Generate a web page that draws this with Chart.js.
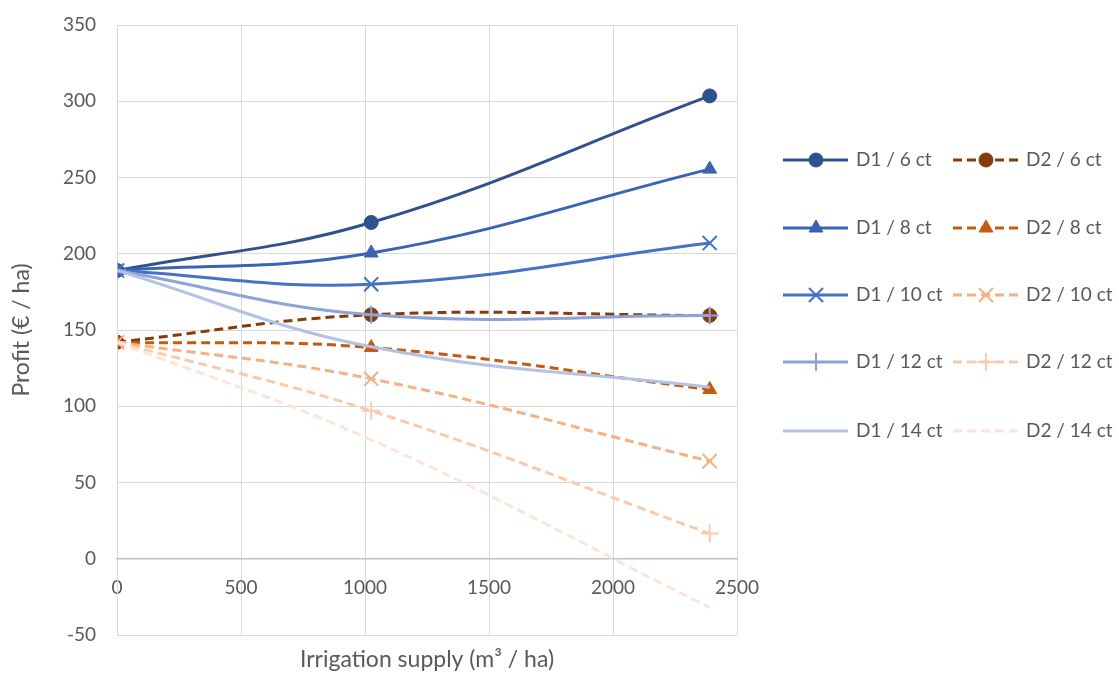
<!DOCTYPE html>
<html lang="en">
<head>
    <meta charset="UTF-8">
    <title>Profit vs irrigation supply</title>
    <script src="https://cdn.jsdelivr.net/npm/chart.js"></script>
    <style>
        body {
            margin: 0;
            background: #ffffff;
        }
        .chart-box {
            width: 1119px;
            height: 673px;
        }
    </style>
</head>
<body>
    <div class="chart-box">
        <canvas id="profitChart"></canvas>
    </div>

    <script>
        // irrigation supply (m3 / ha)
        const supply = [0, 1025, 2390];

        // profit (EUR / ha), D1 series
        const d1_6ct = [189, 220.5, 303.5];
        const d1_8ct = [189, 200.5, 255.5];
        const d1_10ct = [189, 180, 207];
        const d1_12ct = [189, 160, 159.5];
        const d1_14ct = [189, 139, 112.5];

        // D2 series
        const d2_6ct = [142, 160, 159.5];
        const d2_8ct = [142, 138.5, 111];
        const d2_10ct = [142, 118, 64];
        const d2_12ct = [142, 97, 16.5];
        const d2_14ct = [142, 78, -32];

        const seriesNames = ['D1 / 6 ct', 'D2 / 6 ct', 'D1 / 8 ct', 'D2 / 8 ct', 'D1 / 10 ct',
            'D2 / 10 ct', 'D1 / 12 ct', 'D2 / 12 ct', 'D1 / 14 ct', 'D2 / 14 ct'];
        const seriesValues = [d1_6ct, d2_6ct, d1_8ct, d2_8ct, d1_10ct, d2_10ct, d1_12ct, d2_12ct, d1_14ct, d2_14ct];
        const colors = ['#2f528f', '#843c0c', '#3b63b3', '#c55a11', '#4472c4',
            '#f4b183', '#8ea3d8', '#f8cbad', '#b4c2e6', '#fce4d6'];
        const markers = ['circle', 'circle', 'triangle', 'triangle', 'crossRot',
            'crossRot', 'cross', 'cross', false, false];
        const markerSize = { circle: 7, triangle: 8, crossRot: 10, cross: 9 };

        const fontFamily = 'Lato, "Open Sans", sans-serif';
        const textColor = '#595959';

        const datasets = seriesNames.map((name, i) => ({
            label: name,
            data: seriesValues[i].map((v, j) => ({ x: supply[j], y: v })),
            borderColor: colors[i],
            backgroundColor: colors[i],
            borderWidth: 3,
            borderDash: i % 2 === 1 ? [9, 5] : [],
            tension: 0.4,
            pointStyle: markers[i],
            pointRadius: markers[i] ? markerSize[markers[i]] : 0,
            pointBorderWidth: (markers[i] === 'cross' || markers[i] === 'crossRot') ? 2 : 1,
            order: 10 - i
        }));

        // legend in two columns + x axis title, drawn on the canvas
        const extrasPlugin = {
            id: 'extras',
            afterDraw(chart) {
                const ctx = chart.ctx;
                const area = chart.chartArea;
                ctx.save();
                ctx.font = '23px ' + fontFamily;
                ctx.fillStyle = textColor;
                ctx.textAlign = 'center';
                ctx.textBaseline = 'middle';
                ctx.fillText('Irrigation supply (m³ / ha)', (area.left + area.right) / 2, 660);

                ctx.font = '19px ' + fontFamily;
                const ds = chart.data.datasets;
                const colX = [783, 953];
                const rowY = [160, 228, 295, 362, 431];
                ds.forEach((d, i) => {
                    const x0 = colX[i % 2];
                    const y = rowY[Math.floor(i / 2)];
                    ctx.strokeStyle = d.borderColor;
                    ctx.fillStyle = d.borderColor;
                    ctx.lineWidth = 3;
                    ctx.setLineDash(d.borderDash);
                    ctx.beginPath();
                    ctx.moveTo(x0, y);
                    ctx.lineTo(x0 + 65, y);
                    ctx.stroke();
                    ctx.setLineDash([]);
                    if (d.pointStyle) {
                        ctx.lineWidth = d.pointBorderWidth;
                        Chart.helpers.drawPoint(ctx, { pointStyle: d.pointStyle, radius: d.pointRadius, borderWidth: d.pointBorderWidth, rotation: 0 }, x0 + 33, y);
                    }
                    ctx.fillStyle = textColor;
                    ctx.textAlign = 'left';
                    ctx.fillText(d.label, x0 + 73, y);
                });
                ctx.restore();
            }
        };

        new Chart(document.getElementById('profitChart'), {
            type: 'line',
            data: { datasets: datasets },
            options: {
                responsive: true,
                maintainAspectRatio: false,
                animation: false,
                layout: { padding: { left: 0, top: 25, right: 382, bottom: 38 } },
                plugins: {
                    legend: { display: false },
                    tooltip: { enabled: false }
                },
                scales: {
                    x: {
                        type: 'linear',
                        position: { y: 0 },
                        min: 0,
                        max: 2500,
                        ticks: {
                            stepSize: 500, padding: 18, color: textColor,
                            font: { family: fontFamily, size: 19 },
                            callback: (v) => String(v)
                        },
                        grid: { color: '#d9d9d9', drawTicks: false },
                        border: { color: '#bfbfbf', width: 1.5 }
                    },
                    y: {
                        type: 'linear',
                        position: 'left',
                        min: -50,
                        max: 350,
                        ticks: { stepSize: 50, padding: 8, color: textColor, font: { family: fontFamily, size: 19 } },
                        // invisible tick marks just push the labels away from the axis
                        grid: { color: '#d9d9d9', drawTicks: true, tickLength: 13, tickColor: 'rgba(0,0,0,0)' },
                        border: { color: '#d9d9d9' },
                        title: {
                            display: true,
                            text: 'Profit (€ / ha)',
                            color: textColor,
                            font: { family: fontFamily, size: 23 },
                            padding: { top: 8, bottom: 0 }
                        },
                        afterFit(scale) {
                            scale.width = 117;
                        }
                    }
                }
            },
            plugins: [extrasPlugin]
        });
    </script>
</body>
</html>
